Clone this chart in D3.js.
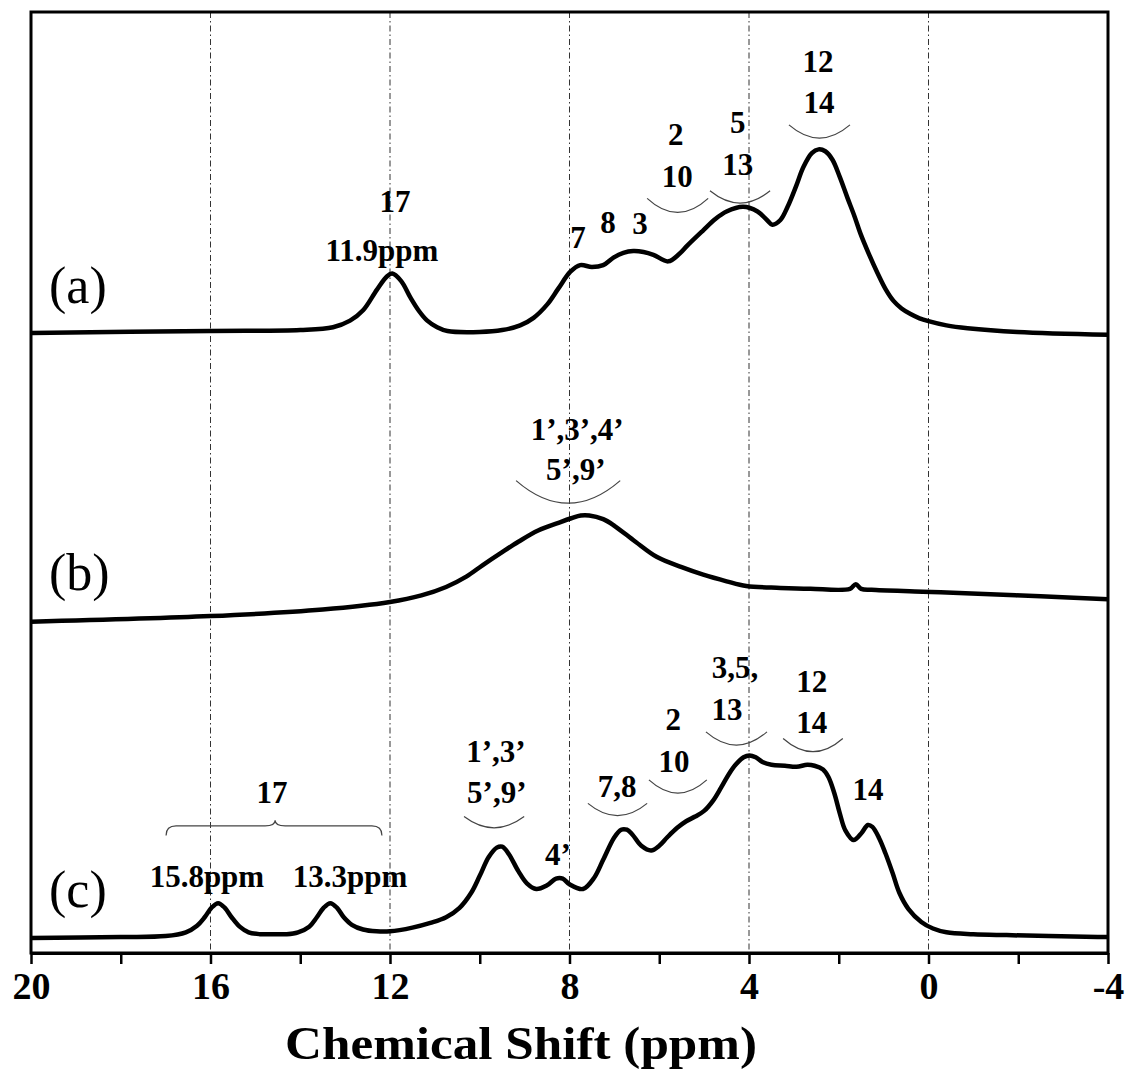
<!DOCTYPE html>
<html>
<head>
<meta charset="utf-8">
<script src="https://cdn.jsdelivr.net/npm/d3@7"></script>
<style>
  body { margin: 0; background: #fff; }
</style>
</head>
<body>
<div id="chartContainer"></div>
<script>
// chemical shift (ppm) and intensity (a.u.)
const ppmA = [20, 16, 14, 13.27, 12.89, 12.6, 12.29, 12.07, 11.95, 11.75, 11.55, 11.35, 11.17, 10.95, 10.72, 10.0, 9.5, 9.1, 8.8, 8.5, 8.25, 7.98, 7.76, 7.5, 7.25, 7.02, 6.8, 6.58, 6.35, 6.13, 5.8, 5.55, 5.37, 5.02, 4.75, 4.5, 4.13, 3.81, 3.6, 3.48, 3.3, 3.14, 2.95, 2.79, 2.6, 2.45, 2.3, 2.14, 1.98, 1.81, 1.65, 1.52, 1.33, 1.14, 0.95, 0.78, 0.6, 0.4, 0.2, 0, -0.4, -0.87, -1.98, -4];
const intA = [0.09, 0.11, 0.12, 0.15, 0.22, 0.33, 0.55, 0.69, 0.72, 0.64, 0.47, 0.32, 0.22, 0.15, 0.11, 0.10, 0.12, 0.17, 0.25, 0.39, 0.56, 0.74, 0.81, 0.79, 0.81, 0.89, 0.94, 0.96, 0.95, 0.92, 0.85, 0.93, 1.02, 1.18, 1.30, 1.38, 1.43, 1.38, 1.29, 1.24, 1.29, 1.43, 1.65, 1.85, 2.0, 2.04, 2.02, 1.93, 1.75, 1.53, 1.33, 1.15, 0.93, 0.73, 0.55, 0.43, 0.35, 0.29, 0.245, 0.215, 0.17, 0.14, 0.10, 0.07];

const ppmB = [20, 16, 13.5, 12, 11.3, 10.75, 10.3, 9.94, 9.5, 9.14, 8.7, 8.2, 7.96, 7.75, 7.56, 7.25, 7.0, 6.53, 6.06, 5.5, 5.02, 4.5, 4.06, 3.3, 2.63, 1.75, 1.62, 1.5, 1.27, 0.13, -0.96, -2.5, -4];
const intB = [0.12, 0.18, 0.25, 0.33, 0.40, 0.49, 0.60, 0.72, 0.86, 0.97, 1.09, 1.18, 1.22, 1.25, 1.25, 1.21, 1.14, 0.97, 0.81, 0.70, 0.62, 0.55, 0.50, 0.48, 0.47, 0.47, 0.52, 0.47, 0.46, 0.44, 0.42, 0.39, 0.36];

const ppmC = [20, 18, 17, 16.55, 16.3, 16.13, 15.98, 15.83, 15.68, 15.53, 15.35, 15.15, 14.9, 14.6, 14.3, 14.05, 13.8, 13.63, 13.48, 13.33, 13.18, 13.03, 12.85, 12.6, 12.3, 12.0, 11.5, 11.1, 10.75, 10.45, 10.19, 10.0, 9.8, 9.62, 9.5, 9.35, 9.14, 8.95, 8.74, 8.5, 8.3, 8.15, 8.0, 7.7, 7.45, 7.25, 7.0, 6.85, 6.72, 6.6, 6.4, 6.18, 6.0, 5.82, 5.6, 5.4, 5.2, 5.0, 4.8, 4.62, 4.45, 4.3, 4.12, 3.99, 3.85, 3.7, 3.5, 3.2, 2.94, 2.7, 2.54, 2.35, 2.23, 2.1, 1.98, 1.85, 1.67, 1.5, 1.35, 1.25, 1.1, 0.96, 0.8, 0.65, 0.45, 0.16, -0.1, -0.4, -1.0, -1.74, -3.77, -4];
const intC = [0.16, 0.17, 0.18, 0.22, 0.29, 0.38, 0.48, 0.53, 0.48, 0.38, 0.28, 0.22, 0.20, 0.20, 0.20, 0.22, 0.28, 0.38, 0.48, 0.53, 0.48, 0.38, 0.30, 0.25, 0.23, 0.23, 0.27, 0.32, 0.38, 0.48, 0.64, 0.82, 1.02, 1.12, 1.13, 1.05, 0.87, 0.74, 0.68, 0.72, 0.79, 0.79, 0.73, 0.68, 0.80, 0.99, 1.23, 1.31, 1.31, 1.26, 1.14, 1.09, 1.14, 1.23, 1.33, 1.40, 1.45, 1.51, 1.62, 1.76, 1.90, 2.00, 2.08, 2.10, 2.08, 2.03, 2.00, 1.99, 1.98, 2.00, 1.99, 1.95, 1.87, 1.70, 1.49, 1.30, 1.20, 1.27, 1.36, 1.34, 1.22, 1.06, 0.85, 0.64, 0.47, 0.33, 0.26, 0.22, 0.20, 0.19, 0.17, 0.17];

const spectrumNames = ["(a)", "(b)", "(c)"];
const spectrumOffsets = [6.5, 3.4, 0];
const nameLevels = [6.91, 3.86, 0.49];

const tickValues = [20, 18, 16, 14, 12, 10, 8, 6, 4, 2, 0, -2, -4];
const gridValues = [16, 12, 8, 4, 0];

// peak assignments: text, ppm, level
const labelText = ["17", "11.9ppm", "7", "8", "3", "2", "10", "5", "13", "12", "14",
  "1’,3’,4’", "5’,9’",
  "17", "15.8ppm", "13.3ppm", "1’,3’", "5’,9’", "4’", "7,8", "2", "10", "3,5,", "13", "12", "14", "14"];
const labelPpm = [11.89, 12.18, 7.81, 7.14, 6.43, 5.63, 5.60, 4.25, 4.25, 2.46, 2.44,
  7.83, 7.86,
  14.63, 16.08, 12.89, 9.64, 9.62, 8.26, 6.94, 5.69, 5.67, 4.31, 4.49, 2.60, 2.60, 1.35];
const labelLevel = [7.87, 7.35, 7.49, 7.65, 7.64, 8.59, 8.14, 8.71, 8.27, 9.36, 8.93,
  5.45, 5.03,
  1.59, 0.70, 0.70, 2.03, 1.59, 0.94, 1.66, 2.37, 1.92, 2.92, 2.48, 2.77, 2.34, 1.63];

// grouping arcs: ppm from, ppm to, level of ends, level of the bottom
const arcFrom = [6.27, 4.87, 3.11, 9.19, 10.35, 7.59, 6.23, 4.96, 3.24];
const arcTo = [4.91, 3.53, 1.75, 6.87, 9.01, 6.27, 4.94, 3.60, 1.91];
const arcTop = [8.02, 8.10, 8.80, 5.02, 1.45, 1.59, 1.84, 2.35, 2.28];
const arcBottom = [7.87, 7.97, 8.66, 4.78, 1.33, 1.46, 1.70, 2.21, 2.14];

// curly brace over the two 17 peaks in (c)
const braceFrom = 16.99, braceTo = 12.18, braceMid = 14.56;
const braceEnd = 1.25, braceLine = 1.35, braceTip = 1.41;

function createGraph() {
  const width = 1130;
  const height = 1072;
  const marginTop = 12;
  const marginRight = 22;
  const marginBottom = 119;
  const marginLeft = 31;

  const x = d3.scaleLinear()
    .domain([20, -4])
    .range([marginLeft, width - marginRight]);

  const y = d3.scaleLinear()
    .domain([0, 10])
    .range([height - marginBottom, marginTop]);

  const svg = d3.create("svg")
    .attr("width", width)
    .attr("height", height)
    .attr("viewBox", [0, 0, width, height])
    .attr("style", "font-family: 'Liberation Serif', 'Times New Roman', serif;");

  document.getElementById("chartContainer").appendChild(svg.node());

  // dash-dot gridlines
  svg.append("g")
    .attr("stroke", "#333")
    .attr("stroke-width", 1)
    .attr("stroke-dasharray", "6,3,1.5,3")
    .selectAll()
    .data(gridValues)
    .join("line")
    .attr("x1", d => x(d))
    .attr("x2", d => x(d))
    .attr("y1", marginTop)
    .attr("y2", height - marginBottom);

  // spectra
  const series = [
    { ppm: ppmA, val: intA },
    { ppm: ppmB, val: intB },
    { ppm: ppmC, val: intC }
  ];

  const line = d3.line()
    .x(d => x(d[0]))
    .y(d => y(d[1]))
    .curve(d3.curveCatmullRom.alpha(0.5));

  series.forEach((s, i) => {
    const pts = s.ppm.map((p, k) => [p, s.val[k] + spectrumOffsets[i]]);
    svg.append("path")
      .attr("d", line(pts))
      .attr("fill", "none")
      .attr("stroke", "#000")
      .attr("stroke-width", 4.5)
      .attr("stroke-linejoin", "round");

    svg.append("text")
      .attr("x", 49)
      .attr("y", y(nameLevels[i]))
      .attr("font-size", 52)
      .text(spectrumNames[i]);
  });

  // labels
  svg.append("g")
    .attr("font-size", 31)
    .attr("font-weight", "bold")
    .attr("text-anchor", "middle")
    .selectAll()
    .data(labelText)
    .join("text")
    .attr("x", (d, i) => x(labelPpm[i]))
    .attr("y", (d, i) => y(labelLevel[i]))
    .text(d => d);

  // arcs
  svg.append("g")
    .attr("fill", "none")
    .attr("stroke", "#444")
    .attr("stroke-width", 1.2)
    .selectAll()
    .data(arcFrom)
    .join("path")
    .attr("d", (d, i) => {
      const x1 = x(arcFrom[i]), x2 = x(arcTo[i]);
      const y1 = y(arcTop[i]), yb = y(arcBottom[i]);
      const cy = 2 * yb - y1;
      return `M${x1},${y1} Q${(x1 + x2) / 2},${cy} ${x2},${y1}`;
    });

  // brace
  const bx1 = x(braceFrom), bx2 = x(braceTo), bxm = x(braceMid);
  const by0 = y(braceEnd), by1 = y(braceLine), byt = y(braceTip);
  const r = 10;
  svg.append("path")
    .attr("fill", "none")
    .attr("stroke", "#444")
    .attr("stroke-width", 1.2)
    .attr("d", `M${bx1},${by0} Q${bx1},${by1} ${bx1 + r},${by1} L${bxm - r},${by1} Q${bxm},${by1} ${bxm},${byt}`
      + ` Q${bxm},${by1} ${bxm + r},${by1} L${bx2 - r},${by1} Q${bx2},${by1} ${bx2},${by0}`);

  // frame
  svg.append("rect")
    .attr("x", marginLeft)
    .attr("y", marginTop)
    .attr("width", width - marginLeft - marginRight)
    .attr("height", height - marginTop - marginBottom)
    .attr("fill", "none")
    .attr("stroke", "#000")
    .attr("stroke-width", 3);

  // x axis
  const xAxis = svg.append("g")
    .attr("transform", `translate(0,${height - marginBottom})`)
    .call(d3.axisBottom(x)
      .tickValues(tickValues)
      .tickSize(11)
      .tickSizeOuter(0)
      .tickPadding(8)
      .tickFormat(d => d % 4 === 0 ? d : ""));

  xAxis.select(".domain").attr("stroke-width", 3);
  xAxis.selectAll(".tick line").attr("stroke-width", 2.5);
  xAxis.selectAll("text")
    .attr("font-family", "'Liberation Serif', 'Times New Roman', serif")
    .attr("font-size", 38)
    .attr("font-weight", "bold")
    .attr("fill", "#000");

  svg.append("text")
    .attr("x", 285)
    .attr("y", 1059)
    .attr("font-size", 46)
    .attr("font-weight", "bold")
    .attr("textLength", 472)
    .attr("lengthAdjust", "spacingAndGlyphs")
    .text("Chemical Shift (ppm)");
}

createGraph();
</script>
</body>
</html>
